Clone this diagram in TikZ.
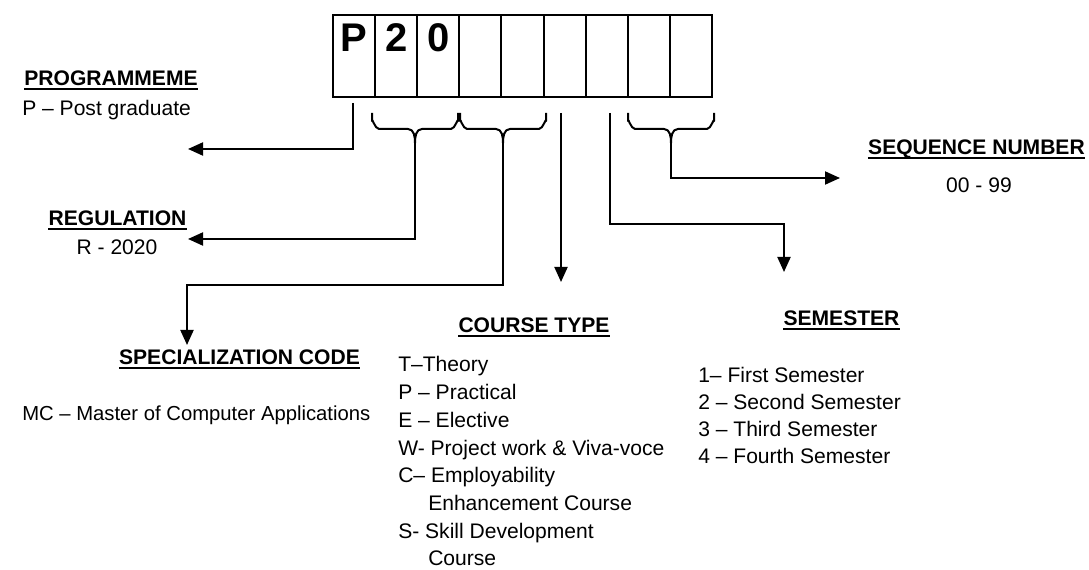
\documentclass[tikz,border=0pt]{standalone}
\usepackage{fontspec}
\setmainfont{Liberation Sans}
\usetikzlibrary{arrows.meta}
\begin{document}
\begin{tikzpicture}[x=0.75pt,y=-0.75pt,
  cell/.style={draw, line width=1.5pt, minimum width=31.6pt, minimum height=61.5pt,
    inner sep=0pt, outer sep=0pt, anchor=north west},
  digit/.style={font=\fontsize{30pt}{30pt}\selectfont\bfseries, inner sep=0pt, anchor=base},
  head/.style={font=\fontsize{15.8pt}{19pt}\selectfont\bfseries, inner sep=0pt, anchor=base},
  body/.style={font=\fontsize{15.8pt}{19pt}\selectfont, inner sep=0pt, anchor=base west},
  bodyc/.style={body, anchor=base},
  link/.style={line width=1.5pt},
  arr/.style={link, -{Triangle[length=11.25pt,width=9.75pt]}},
  bracepath/.style={line width=1.5pt, line join=round},
  uline/.style={line width=1.5pt}
]
\useasboundingbox (0,0) rectangle (1089,570);

% the nine-character code boxes
\foreach \i in {1,...,9}
  \node[cell] (c\i) at ({333+42.1*(\i-1)},15) {};

% fixed characters
\coordinate (dl) at (0,52);
\node[digit] (dP)  at (c1 |- dl) {P};
\node[digit] (d2)  at (c2 |- dl) {2};
\node[digit] (d0)  at (c3 |- dl) {0};

% braces grouping the positions
\draw[bracepath] (372,113) -- (372,121) to[out=90,in=180] (379,129) -- (408,129)
  to[out=0,in=90] (415,143) to[out=90,in=180] (422,129) -- (451,129)
  to[out=0,in=90] (458,121) -- (458,113);
\coordinate (b1) at (415,143);

\draw[bracepath] (460,113) -- (460,121) to[out=90,in=180] (467,129) -- (496,129)
  to[out=0,in=90] (503,143) to[out=90,in=180] (510,129) -- (539,129)
  to[out=0,in=90] (546,121) -- (546,113);
\coordinate (b2) at (503,143);

\draw[bracepath] (628,113) -- (628,121) to[out=90,in=180] (635,129) -- (664,129)
  to[out=0,in=90] (671,143) to[out=90,in=180] (678,129) -- (707,129)
  to[out=0,in=90] (714,121) -- (714,113);
\coordinate (b3) at (671,143);

% labels
\node[head] (hProg) at (111,85.5) {PROGRAMMEME};
\node[body] (tProg) at (22,115.5) {P – Post graduate};

\node[head] (hReg) at (117.5,225.5) {REGULATION};
\node[bodyc] (tReg) at (117,254.5) {R - 2020};

\node[head] (hSpec) at (239.5,364.5) {SPECIALIZATION CODE};
\node[body, font=\fontsize{15.2pt}{19pt}\selectfont] (tSpec) at (22,420.5)
  {MC – Master of Computer Applications};

\node[head] (hType) at (534,332.5) {COURSE TYPE};
\node[body] (ct1) at (398,372.0) {T–Theory};
\node[body] (ct2) at (398,399.7) {P – Practical};
\node[body] (ct3) at (398,427.4) {E – Elective};
\node[body] (ct4) at (398,455.1) {W- Project work \& Viva-voce};
\node[body] (ct5) at (398,482.8) {C– Employability};
\node[body] (ct6) at (428,510.5) {Enhancement Course};
\node[body] (ct7) at (398,538.2) {S- Skill Development};
\node[body] (ct8) at (428,565.9) {Course};

\node[head] (hSem) at (841.5,325.5) {SEMESTER};
\node[body] (s1) at (698,382.5) {1– First Semester};
\node[body] (s2) at (698,409.4) {2 – Second Semester};
\node[body] (s3) at (698,436.3) {3 – Third Semester};
\node[body] (s4) at (698,463.2) {4 – Fourth Semester};

\node[head] (hSeq) at (976.5,154.5) {SEQUENCE NUMBER};
\node[bodyc] (tSeq) at (979,192.5) {00 - 99};

% underlines of the headings
\foreach \h in {hProg,hReg,hSpec,hType,hSem,hSeq}
  \draw[uline] ([yshift=-2.9pt]\h.base west) -- ([yshift=-2.9pt]\h.base east);

% connectors
\coordinate (p0) at (353,103);
\coordinate (pEnd) at (188,149);
\draw[arr] (p0) |- (pEnd);

\coordinate (rEnd) at (188,239);
\draw[arr] (b1) |- (rEnd);

\coordinate (spCorner) at (187,285);
\coordinate (spEnd) at (187,345);
\draw[arr] (b2) |- (spCorner) -- (spEnd);

\coordinate (t0) at (561,113);
\coordinate (tEnd) at (561,282);
\draw[arr] (t0) -- (tEnd);

\coordinate (m0) at (610,113);
\coordinate (mCorner) at (784,224);
\coordinate (mEnd) at (784,272);
\draw[arr] (m0) |- (mCorner) -- (mEnd);

\coordinate (qEnd) at (840,178);
\draw[arr] (b3) |- (qEnd);
\end{tikzpicture}
\end{document}
